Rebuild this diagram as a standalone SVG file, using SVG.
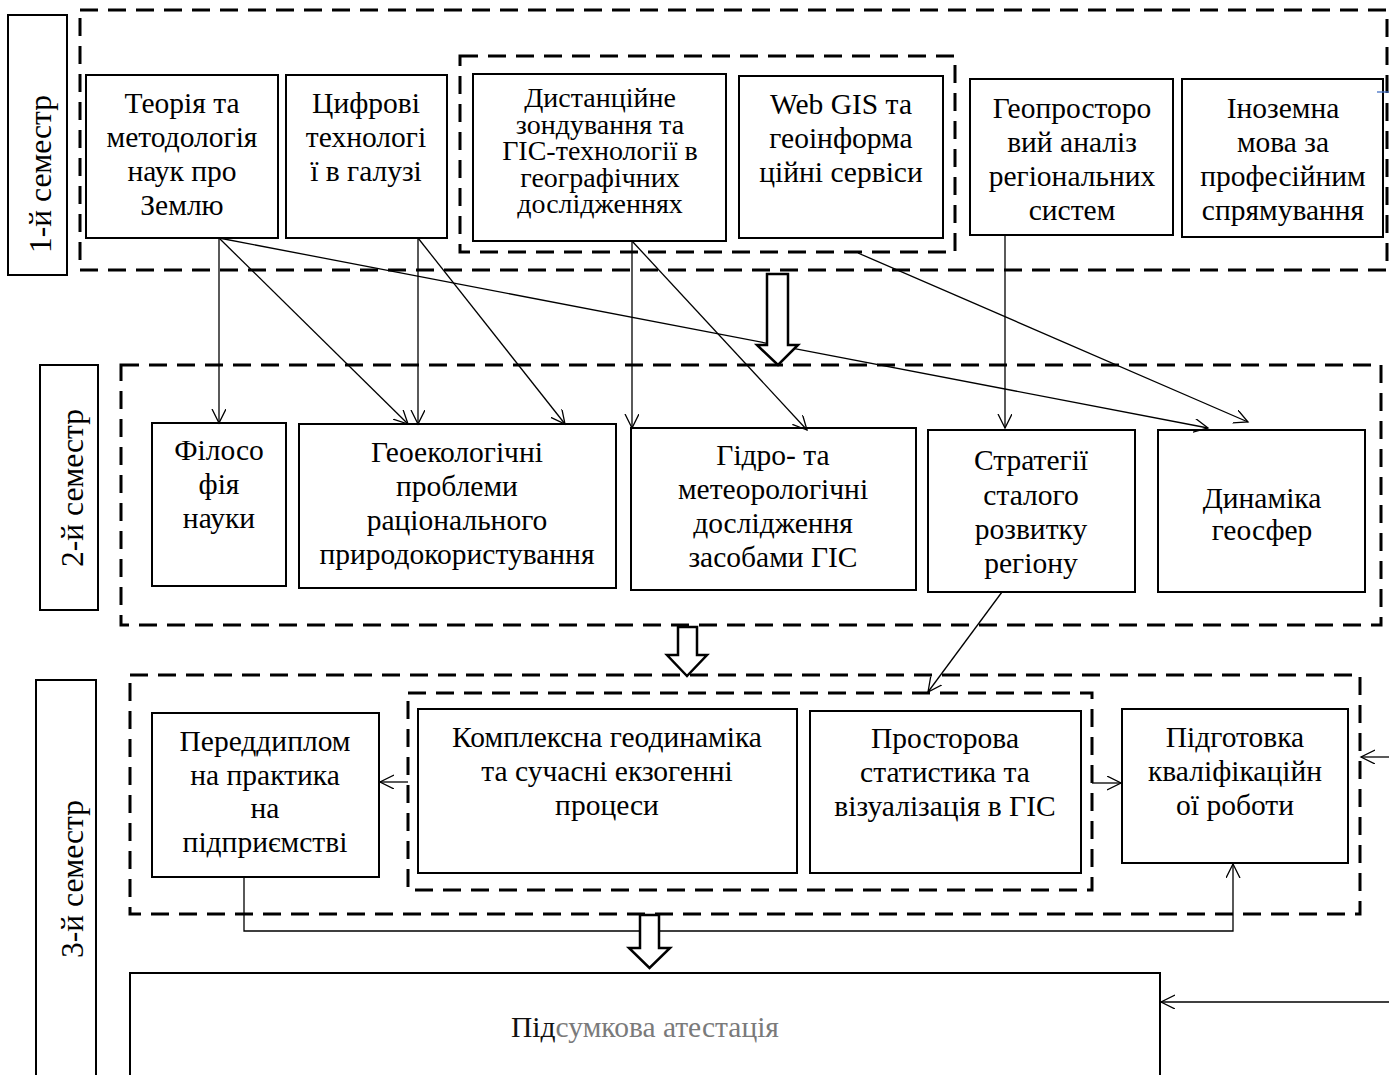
<svg xmlns="http://www.w3.org/2000/svg" width="1389" height="1075" viewBox="0 0 1389 1075">
<style>
.t{font-family:"Liberation Serif","Times New Roman",serif;font-size:29.5px;text-anchor:middle;fill:#000}
.s{font-size:28px}
.lbl{font-size:31.5px}
.box{fill:#fff;stroke:#000;stroke-width:2}
.dash{fill:none;stroke:#000;stroke-width:3;stroke-dasharray:18 10}
.c{fill:none;stroke:#000;stroke-width:1.3}
.blk{fill:#fff;stroke:#000;stroke-width:2.5;stroke-linejoin:miter}
</style>
<defs>
<marker id="a" markerUnits="userSpaceOnUse" markerWidth="16" markerHeight="16" refX="14" refY="7" orient="auto">
<path d="M0,0 L14,7 L0,14" fill="none" stroke="#000" stroke-width="1.3"/>
</marker>
</defs>
<rect width="1389" height="1075" fill="#fff"/>

<!-- semester labels -->
<g id="sem1"><rect class="box" x="8" y="15" width="59" height="260"/><text class="t lbl" transform="translate(51,174) rotate(-90)">1-й семестр</text></g>
<g id="sem2"><rect class="box" x="40" y="365" width="58" height="245"/><text class="t lbl" transform="translate(83,488) rotate(-90)">2-й семестр</text></g>
<g id="sem3"><rect class="box" x="36" y="680" width="60" height="400"/><text class="t lbl" transform="translate(83,879) rotate(-90)">3-й семестр</text></g>

<!-- dashed groups -->
<g id="groups">
<rect class="dash" x="80" y="10" width="1307" height="260"/>
<rect class="dash" x="460" y="56" width="495" height="196"/>
<rect class="dash" x="121" y="365" width="1260" height="260"/>
<rect class="dash" x="130" y="675" width="1230" height="239"/>
<rect class="dash" x="408" y="693" width="684" height="197"/>
</g>

<!-- row 1 -->
<g id="n1"><rect class="box" x="86" y="75" width="192" height="163"/>
<text class="t" x="182" y="113">Теорія та</text><text class="t" x="182" y="147">методологія</text><text class="t" x="182" y="181">наук про</text><text class="t" x="182" y="215">Землю</text></g>
<g id="n2"><rect class="box" x="286" y="75" width="161" height="163"/>
<text class="t" x="366" y="113">Цифрові</text><text class="t" x="366" y="147">технологі</text><text class="t" x="366" y="181">ї в галузі</text></g>
<g id="n3"><rect class="box" x="473" y="74" width="253" height="167"/>
<text class="t s" x="600" y="107">Дистанційне</text><text class="t s" x="600" y="133.5">зондування та</text><text class="t s" x="600" y="160">ГІС-технології в</text><text class="t s" x="600" y="186.5">географічних</text><text class="t s" x="600" y="213">дослідженнях</text></g>
<g id="n4"><rect class="box" x="739" y="76" width="204" height="162"/>
<text class="t" x="841" y="114">Web GIS та</text><text class="t" x="841" y="148">геоінформа</text><text class="t" x="841" y="182">ційні сервіси</text></g>
<g id="n5"><rect class="box" x="970" y="79" width="203" height="156"/>
<text class="t" x="1072" y="118">Геопросторо</text><text class="t" x="1072" y="152">вий аналіз</text><text class="t" x="1072" y="186">регіональних</text><text class="t" x="1072" y="220">систем</text></g>
<g id="n6"><rect class="box" x="1182" y="79" width="201" height="158"/>
<text class="t" x="1283" y="118">Іноземна</text><text class="t" x="1283" y="152">мова за</text><text class="t" x="1283" y="186">професійним</text><text class="t" x="1283" y="220">спрямування</text></g>

<!-- row 2 -->
<g id="n7"><rect class="box" x="152" y="423" width="134" height="163"/>
<text class="t" x="219" y="460">Філосо</text><text class="t" x="219" y="494">фія</text><text class="t" x="219" y="528">науки</text></g>
<g id="n8"><rect class="box" x="299" y="424" width="317" height="164"/>
<text class="t" x="457" y="462">Геоекологічні</text><text class="t" x="457" y="496">проблеми</text><text class="t" x="457" y="530">раціонального</text><text class="t" x="457" y="564">природокористування</text></g>
<g id="n9"><rect class="box" x="631" y="428" width="285" height="162"/>
<text class="t" x="773" y="465">Гідро- та</text><text class="t" x="773" y="499">метеорологічні</text><text class="t" x="773" y="533">дослідження</text><text class="t" x="773" y="567">засобами ГІС</text></g>
<g id="n10"><rect class="box" x="928" y="430" width="207" height="162"/>
<text class="t" x="1031" y="470">Стратегії</text><text class="t" x="1031" y="505">сталого</text><text class="t" x="1031" y="539">розвитку</text><text class="t" x="1031" y="573">регіону</text></g>
<g id="n11"><rect class="box" x="1158" y="430" width="207" height="162"/>
<text class="t" x="1262" y="508">Динаміка</text><text class="t" x="1262" y="540">геосфер</text></g>

<!-- row 3 -->
<g id="n12"><rect class="box" x="152" y="713" width="227" height="164"/>
<text class="t" x="265" y="751">Переддиплом</text><text class="t" x="265" y="785">на практика</text><text class="t" x="265" y="818">на</text><text class="t" x="265" y="852">підприємстві</text></g>
<g id="n13"><rect class="box" x="418" y="709" width="379" height="164"/>
<text class="t" x="607" y="747">Комплексна геодинаміка</text><text class="t" x="607" y="781">та сучасні екзогенні</text><text class="t" x="607" y="815">процеси</text></g>
<g id="n14"><rect class="box" x="810" y="711" width="271" height="162"/>
<text class="t" x="945" y="748">Просторова</text><text class="t" x="945" y="782">статистика та</text><text class="t" x="945" y="816">візуалізація в ГІС</text></g>
<g id="n15"><rect class="box" x="1122" y="709" width="226" height="154"/>
<text class="t" x="1235" y="747">Підготовка</text><text class="t" x="1235" y="781">кваліфікаційн</text><text class="t" x="1235" y="815">ої роботи</text></g>

<!-- final -->
<g id="n16"><path class="box" d="M130,1080 V973 H1160 V1080"/>
<text class="t" x="645" y="1037"><tspan fill="#111">Під</tspan><tspan fill="#7a7a7a">сумкова атестація</tspan></text></g>

<!-- connectors -->
<g id="connectors">
<line class="c" x1="219" y1="238" x2="219" y2="423" marker-end="url(#a)"/>
<line class="c" x1="219" y1="238" x2="408" y2="424" marker-end="url(#a)"/>
<line class="c" x1="219" y1="238" x2="1208" y2="428" marker-end="url(#a)"/>
<line class="c" x1="418" y1="238" x2="418" y2="424" marker-end="url(#a)"/>
<line class="c" x1="418" y1="238" x2="565" y2="424" marker-end="url(#a)"/>
<line class="c" x1="632" y1="241" x2="632" y2="428" marker-end="url(#a)"/>
<line class="c" x1="632" y1="241" x2="807" y2="430" marker-end="url(#a)"/>
<line class="c" x1="858" y1="253" x2="1248" y2="422" marker-end="url(#a)"/>
<line class="c" x1="1005" y1="235" x2="1005" y2="428" marker-end="url(#a)"/>
<line class="c" x1="1002" y1="592" x2="928" y2="692" marker-end="url(#a)"/>
<line class="c" x1="408" y1="782" x2="380" y2="782" marker-end="url(#a)"/>
<line class="c" x1="1092" y1="783" x2="1121" y2="783" marker-end="url(#a)"/>
<line class="c" x1="1389" y1="757" x2="1361" y2="757" marker-end="url(#a)"/>
<polyline class="c" points="244,877 244,931 1233,931 1233,864" marker-end="url(#a)"/>
<line class="c" x1="1389" y1="1002" x2="1161" y2="1002" marker-end="url(#a)"/>
<line x1="1377" y1="92" x2="1389" y2="92" stroke="#4472c4" stroke-width="1.3"/>
<path class="blk" d="M767,274 H788 V345 H798 L778,365 L757,345 H767 Z"/>
<path class="blk" d="M678,627 H697 V655 H707 L687,676 L667,655 H678 Z"/>
<path class="blk" d="M640,915 H659 V948 H670 L649.5,968 L629,948 H640 Z"/>
</g>
</svg>
